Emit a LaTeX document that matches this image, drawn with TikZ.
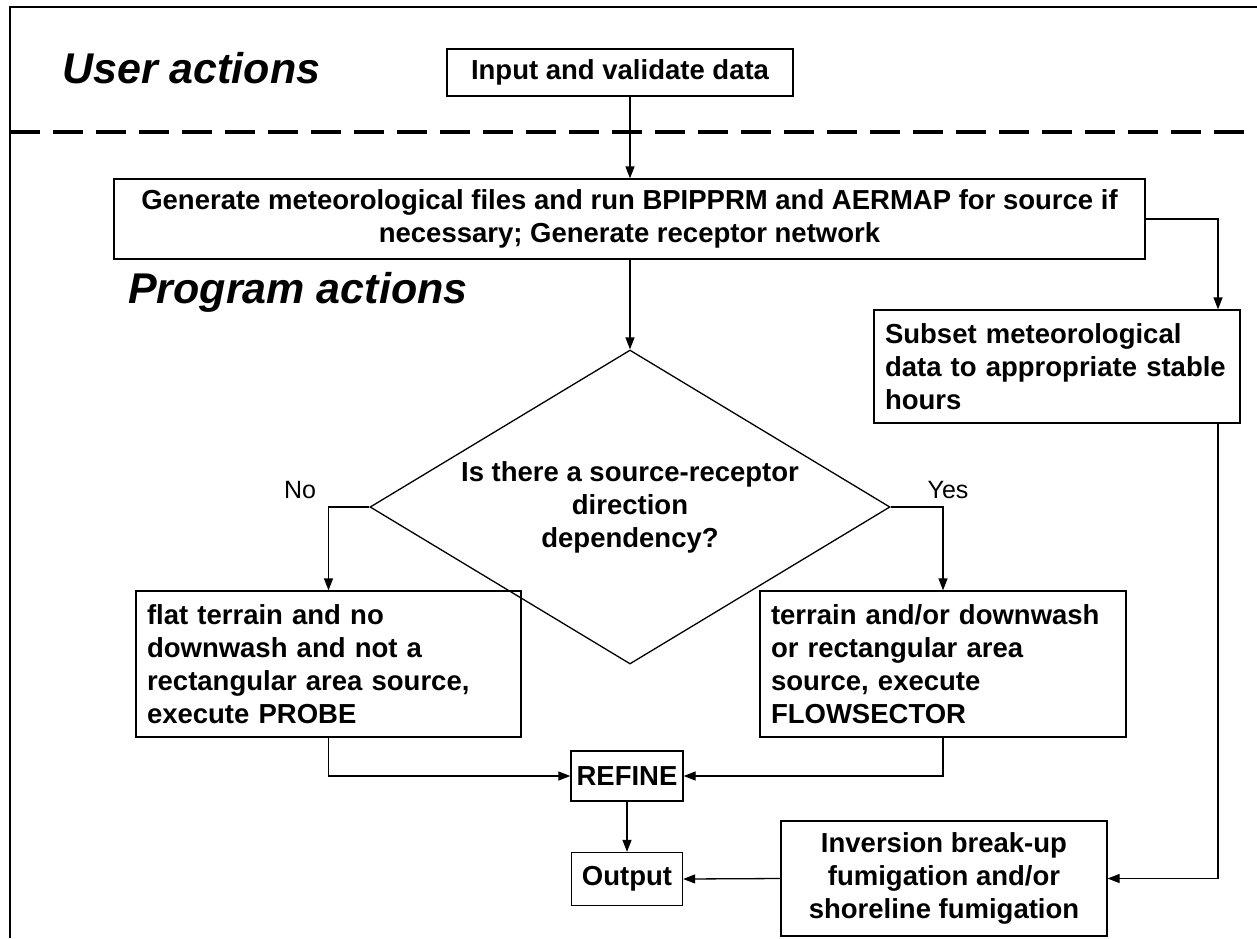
\documentclass[tikz,border=0pt]{standalone}
\usepackage{fontspec}
\setmainfont{Liberation Sans}
\usetikzlibrary{arrows.meta,shapes.geometric}

\begin{document}
\begin{tikzpicture}[x=1pt,y=-1pt,>={Triangle[length=12pt,width=9pt]},
	box/.style={draw,line width=1.3pt,rectangle,inner sep=0pt,
		font=\fontsize{27.5}{33}\selectfont\bfseries},
	lbox/.style={box,align=left,inner xsep=11pt},
	title/.style={font=\fontsize{43}{48}\selectfont\bfseries\itshape,anchor=base west,inner sep=0pt},
	yesno/.style={font=\fontsize{25}{30}\selectfont,anchor=base,inner sep=0pt},
	conn/.style={line width=1.3pt}]

\useasboundingbox (0,0) rectangle (1257,938);

\draw [line width=2pt] (9.5,938) -- (9.5,6.5) -- (1257,6.5);
\draw [line width=4pt,dash pattern=on 30pt off 13pt] (10,132) -- (1257,132);

\node [title] (user) at (62,83) {User actions};
\node [title] (prog) at (128,303) {Program actions};

\node [box,minimum width=346pt,minimum height=47pt] (input) at (620,72.5) {Input and validate data};

\node [box,align=center,minimum width=1031pt,minimum height=80pt] (gen) at (629.5,219)
	{Generate meteorological files and run BPIPPRM and AERMAP for source if\\ necessary; Generate receptor network};

\node [lbox,text width=344pt,minimum width=366pt,minimum height=113pt] (subset) at (1057,366.5)
	{Subset meteorological\\ data to appropriate stable\\ hours};

\node [draw,line width=1.3pt,diamond,aspect=1.66,inner sep=0pt,align=center,
	minimum width=520pt,minimum height=314pt,
	font=\fontsize{27.5}{33}\selectfont\bfseries] (dec) at (630,507)
	{Is there a source-receptor\\ direction\\ dependency?};

\node [yesno] (no) at (300,498) {No};
\node [yesno] (yes) at (948,498) {Yes};

\node [lbox,text width=363pt,minimum width=385pt,minimum height=146pt] (probe) at (328.5,664)
	{flat terrain and no\\ downwash and not a\\ rectangular area source,\\ execute PROBE};

\node [lbox,text width=344pt,minimum width=366pt,minimum height=146pt] (flow) at (943,664)
	{terrain and/or downwash\\ or rectangular area\\ source, execute\\ FLOWSECTOR};

\node [box,minimum width=112pt,minimum height=50pt] (refine) at (627,776) {REFINE};
\node [box,minimum width=111pt,minimum height=53pt] (output) at (627,879) {Output};

\node [box,align=center,minimum width=326pt,minimum height=115pt] (inver) at (944,878.5)
	{Inversion break-up\\ fumigation and/or\\ shoreline fumigation};

\coordinate (rt) at (1218,0);

\draw [conn,->] (input.south -| dec.north) -- (gen.north -| dec.north);
\draw [conn,->] (gen.south -| dec.north) -- (dec.north);
\draw [conn,->] (gen.east) -| (rt |- subset.north);
\draw [conn,->] (rt |- subset.south) |- (inver.east);
\draw [conn,->] (dec.west) -| (probe.north);
\draw [conn,->] (dec.east) -| (flow.north);
\draw [conn,->] (probe.south) |- (refine.west);
\draw [conn,->] (flow.south) |- (refine.east);
\draw [conn,->] (refine.south) -- (output.north);
\draw [conn,->] (inver.west) -- (output.east);

\end{tikzpicture}
\end{document}
